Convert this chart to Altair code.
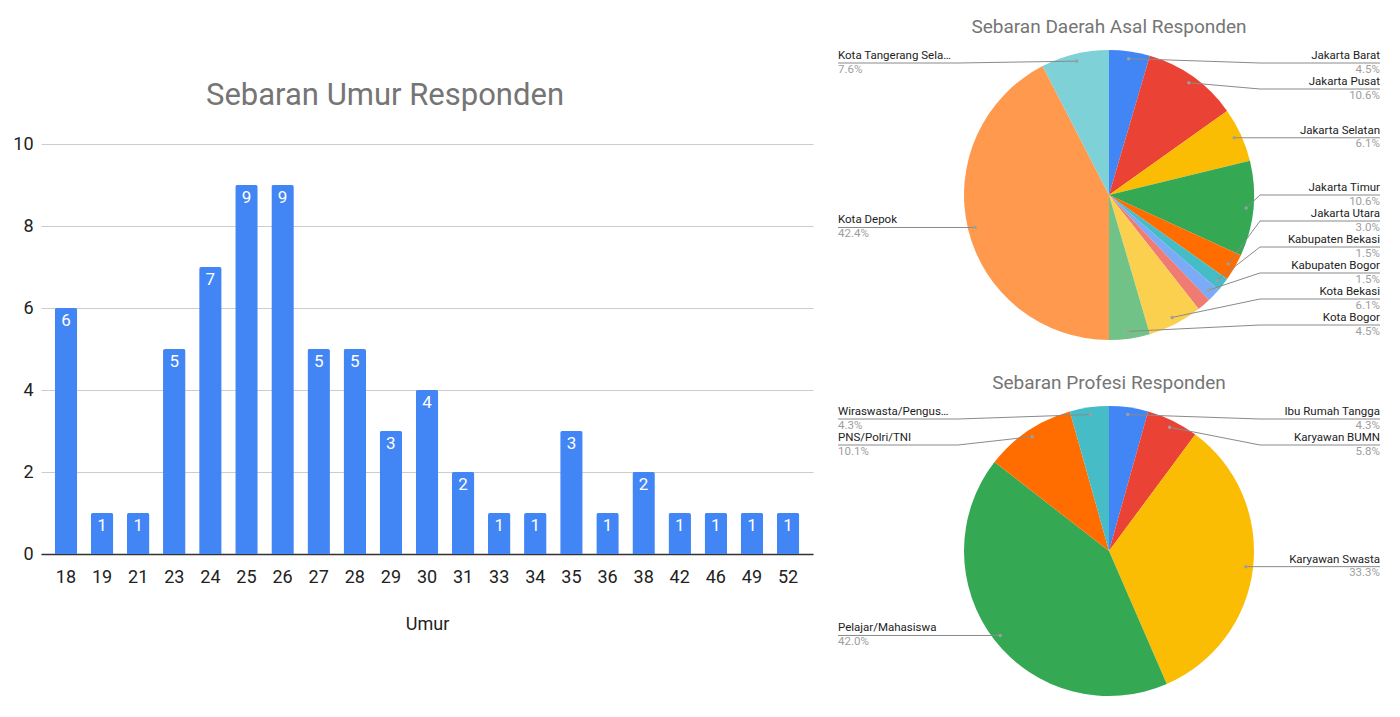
import math

import altair as alt
import pandas as pd

# --- data -----------------------------------------------------------------
umur = ["18", "19", "21", "23", "24", "25", "26", "27", "28", "29", "30",
        "31", "33", "34", "35", "36", "38", "42", "46", "49", "52"]
jumlah_umur = [6, 1, 1, 5, 7, 9, 9, 5, 5, 3, 4, 2, 1, 1, 3, 1, 2, 1, 1, 1, 1]

daerah = ["Jakarta Barat", "Jakarta Pusat", "Jakarta Selatan", "Jakarta Timur",
          "Jakarta Utara", "Kabupaten Bekasi", "Kabupaten Bogor",
          "Kabupaten Tangerang", "Kota Bekasi", "Kota Bogor", "Kota Depok",
          "Kota Tangerang Selatan"]
jumlah_daerah = [3, 7, 4, 7, 2, 1, 1, 1, 4, 3, 28, 5]
daerah_tanpa_label = ["Kabupaten Tangerang"]

profesi = ["Ibu Rumah Tangga", "Karyawan BUMN", "Karyawan Swasta",
           "Pelajar/Mahasiswa", "PNS/Polri/TNI", "Wiraswasta/Pengusaha"]
jumlah_profesi = [3, 4, 23, 29, 7, 3]

warna = ["#4285F4", "#EA4335", "#FBBC04", "#34A853", "#FF6D01", "#46BDC6",
         "#7BAAF7", "#F07B72", "#FCD04F", "#71C287", "#FF994D", "#7ED1D7"]

FONT = "Roboto"
PIE_W, PIE_H, R = 542, 310, 145
GAP = 26  # jarak minimum antar label
LABEL_SIZE = 11.5


def label_layout(names, counts, hidden):
    """Posisi titik, garis penunjuk dan label (gaya Google Sheets)."""
    cx, cy = PIE_W / 2, PIE_H / 2
    total = sum(counts)
    rows, cum = [], 0
    for name, n in zip(names, counts):
        mid = (cum + n / 2) / total * 2 * math.pi
        cum += n
        if name in hidden:
            continue
        rows.append({
            "nama": name,
            "pct": f"{n / total * 100:.1f}%",
            "side": "r" if math.sin(mid) >= 0 else "l",
            "dot_x": cx + 0.95 * R * math.sin(mid),
            "dot_y": cy - 0.95 * R * math.cos(mid),
        })
    lab = pd.DataFrame(rows)
    y_min, y_max = cy - R + 13, cy + R - 15
    lab["lab_y"] = 0.0
    for side, g in lab.groupby("side"):
        idx = list(g.sort_values("dot_y").index)
        ys = [min(max(lab.at[i, "dot_y"], y_min), y_max) for i in idx]
        for k in range(1, len(ys)):
            ys[k] = max(ys[k], ys[k - 1] + GAP)
        ys[-1] = min(ys[-1], y_max)
        for k in range(len(ys) - 2, -1, -1):
            ys[k] = min(ys[k], ys[k + 1] - GAP)
        lab.loc[idx, "lab_y"] = ys
    right = lab["side"] == "r"
    lab["elbow_x"] = cx + (R + 6) * right.map({True: 1, False: -1})
    lab["end_x"] = right.map({True: PIE_W, False: 0})
    lab["name_y"] = lab["lab_y"] - 7
    lab["pct_y"] = lab["lab_y"] + 6.5
    seg1 = lab.rename(columns={"dot_x": "x", "dot_y": "y", "elbow_x": "x2", "lab_y": "y2"})[["x", "y", "x2", "y2"]]
    seg2 = pd.DataFrame({"x": lab["elbow_x"], "y": lab["lab_y"], "x2": lab["end_x"], "y2": lab["lab_y"]})
    return lab, pd.concat([seg1, seg2], ignore_index=True)


def pie_chart(names, counts, title, hidden=()):
    df = pd.DataFrame({"nama": names, "jumlah": counts, "urut": range(len(names))})
    lab, seg = label_layout(names, counts, hidden)

    xs = alt.Scale(domain=[0, PIE_W], range=[0, PIE_W], nice=False, zero=False)
    ys = alt.Scale(domain=[0, PIE_H], range=[0, PIE_H], nice=False, zero=False)

    arc = alt.Chart(df).mark_arc(outerRadius=R).encode(
        theta=alt.Theta("jumlah:Q", stack=True),
        color=alt.Color("nama:N", scale=alt.Scale(domain=names, range=warna[:len(names)]), legend=None),
        order=alt.Order("urut:Q"),
    )
    lines = alt.Chart(seg).mark_rule(color="#8a8a8a", strokeWidth=1).encode(
        x=alt.X("x:Q", scale=xs, axis=None),
        y=alt.Y("y:Q", scale=ys, axis=None),
        x2="x2:Q",
        y2="y2:Q",
    )
    dots = alt.Chart(lab).mark_circle(color="#9e9e9e", size=12, opacity=1).encode(
        x=alt.X("dot_x:Q", scale=xs, axis=None),
        y=alt.Y("dot_y:Q", scale=ys, axis=None),
    )
    layers = [arc, lines, dots]
    for side, align in [("r", "right"), ("l", "left")]:
        base = alt.Chart(lab).transform_filter(alt.datum.side == side)
        layers.append(base.mark_text(align=align, baseline="middle", font=FONT, fontSize=LABEL_SIZE,
                                     color="#222222", limit=114.5).encode(
            x=alt.X("end_x:Q", scale=xs, axis=None),
            y=alt.Y("name_y:Q", scale=ys, axis=None),
            text="nama:N",
        ))
        layers.append(base.mark_text(align=align, baseline="middle", font=FONT, fontSize=LABEL_SIZE,
                                     color="#9e9e9e").encode(
            x=alt.X("end_x:Q", scale=xs, axis=None),
            y=alt.Y("pct_y:Q", scale=ys, axis=None),
            text="pct:N",
        ))
    return alt.layer(*layers).properties(
        width=PIE_W, height=PIE_H,
        title=alt.TitleParams(title, font=FONT, fontSize=19, fontWeight="normal",
                              color="#757575", offset=3),
    )


# --- bar chart ----------------------------------------------------------------
bar_df = pd.DataFrame({"Umur": umur, "Jumlah": jumlah_umur})
base = alt.Chart(bar_df).encode(
    x=alt.X("Umur:N", sort=umur, title="Umur",
            scale=alt.Scale(paddingInner=0.377, paddingOuter=0.38),
            axis=alt.Axis(labelAngle=0, labelFontSize=18, labelColor="#222222", labelFont=FONT,
                          labelPadding=14, ticks=False, domainColor="#333333", domainWidth=1.5,
                          titleFont=FONT, titleFontSize=18, titleFontWeight="normal",
                          titleColor="#222222", titlePadding=29, grid=False)),
    y=alt.Y("Jumlah:Q", scale=alt.Scale(domain=[0, 10], nice=False),
            axis=alt.Axis(values=[0, 2, 4, 6, 8, 10], title=None, domain=False, ticks=False,
                          labelFontSize=18, labelColor="#222222", labelFont=FONT, labelPadding=8,
                          gridColor="#cccccc")),
)
bars = base.mark_bar(color="#4285F4", cornerRadiusTopLeft=2, cornerRadiusTopRight=2)
values = base.mark_text(color="white", font=FONT, fontSize=17, baseline="top", dy=5).encode(
    text="Jumlah:Q"
)
bar_chart = alt.layer(bars, values).properties(
    width=772, height=410,
    title=alt.TitleParams("Sebaran Umur Responden", font=FONT, fontSize=31, fontWeight="normal",
                          color="#757575", offset=23, dx=-42),
)

# ruang kosong di atas grafik batang
spacer = alt.Chart(pd.DataFrame({"t": [""]})).mark_text().encode(text="t:N").properties(
    width=772, height=40
)
left = alt.vconcat(spacer, bar_chart, spacing=0)

pies = alt.vconcat(
    pie_chart(daerah, jumlah_daerah, "Sebaran Daerah Asal Responden", daerah_tanpa_label),
    pie_chart(profesi, jumlah_profesi, "Sebaran Profesi Responden"),
    spacing=24,
)

chart = alt.hconcat(left, pies, spacing=24).configure(
    padding={"left": 4, "top": 10, "right": 0, "bottom": 0},
).configure_view(stroke=None)

chart.save("out.html", embed_options={"renderer": "svg", "actions": False})
